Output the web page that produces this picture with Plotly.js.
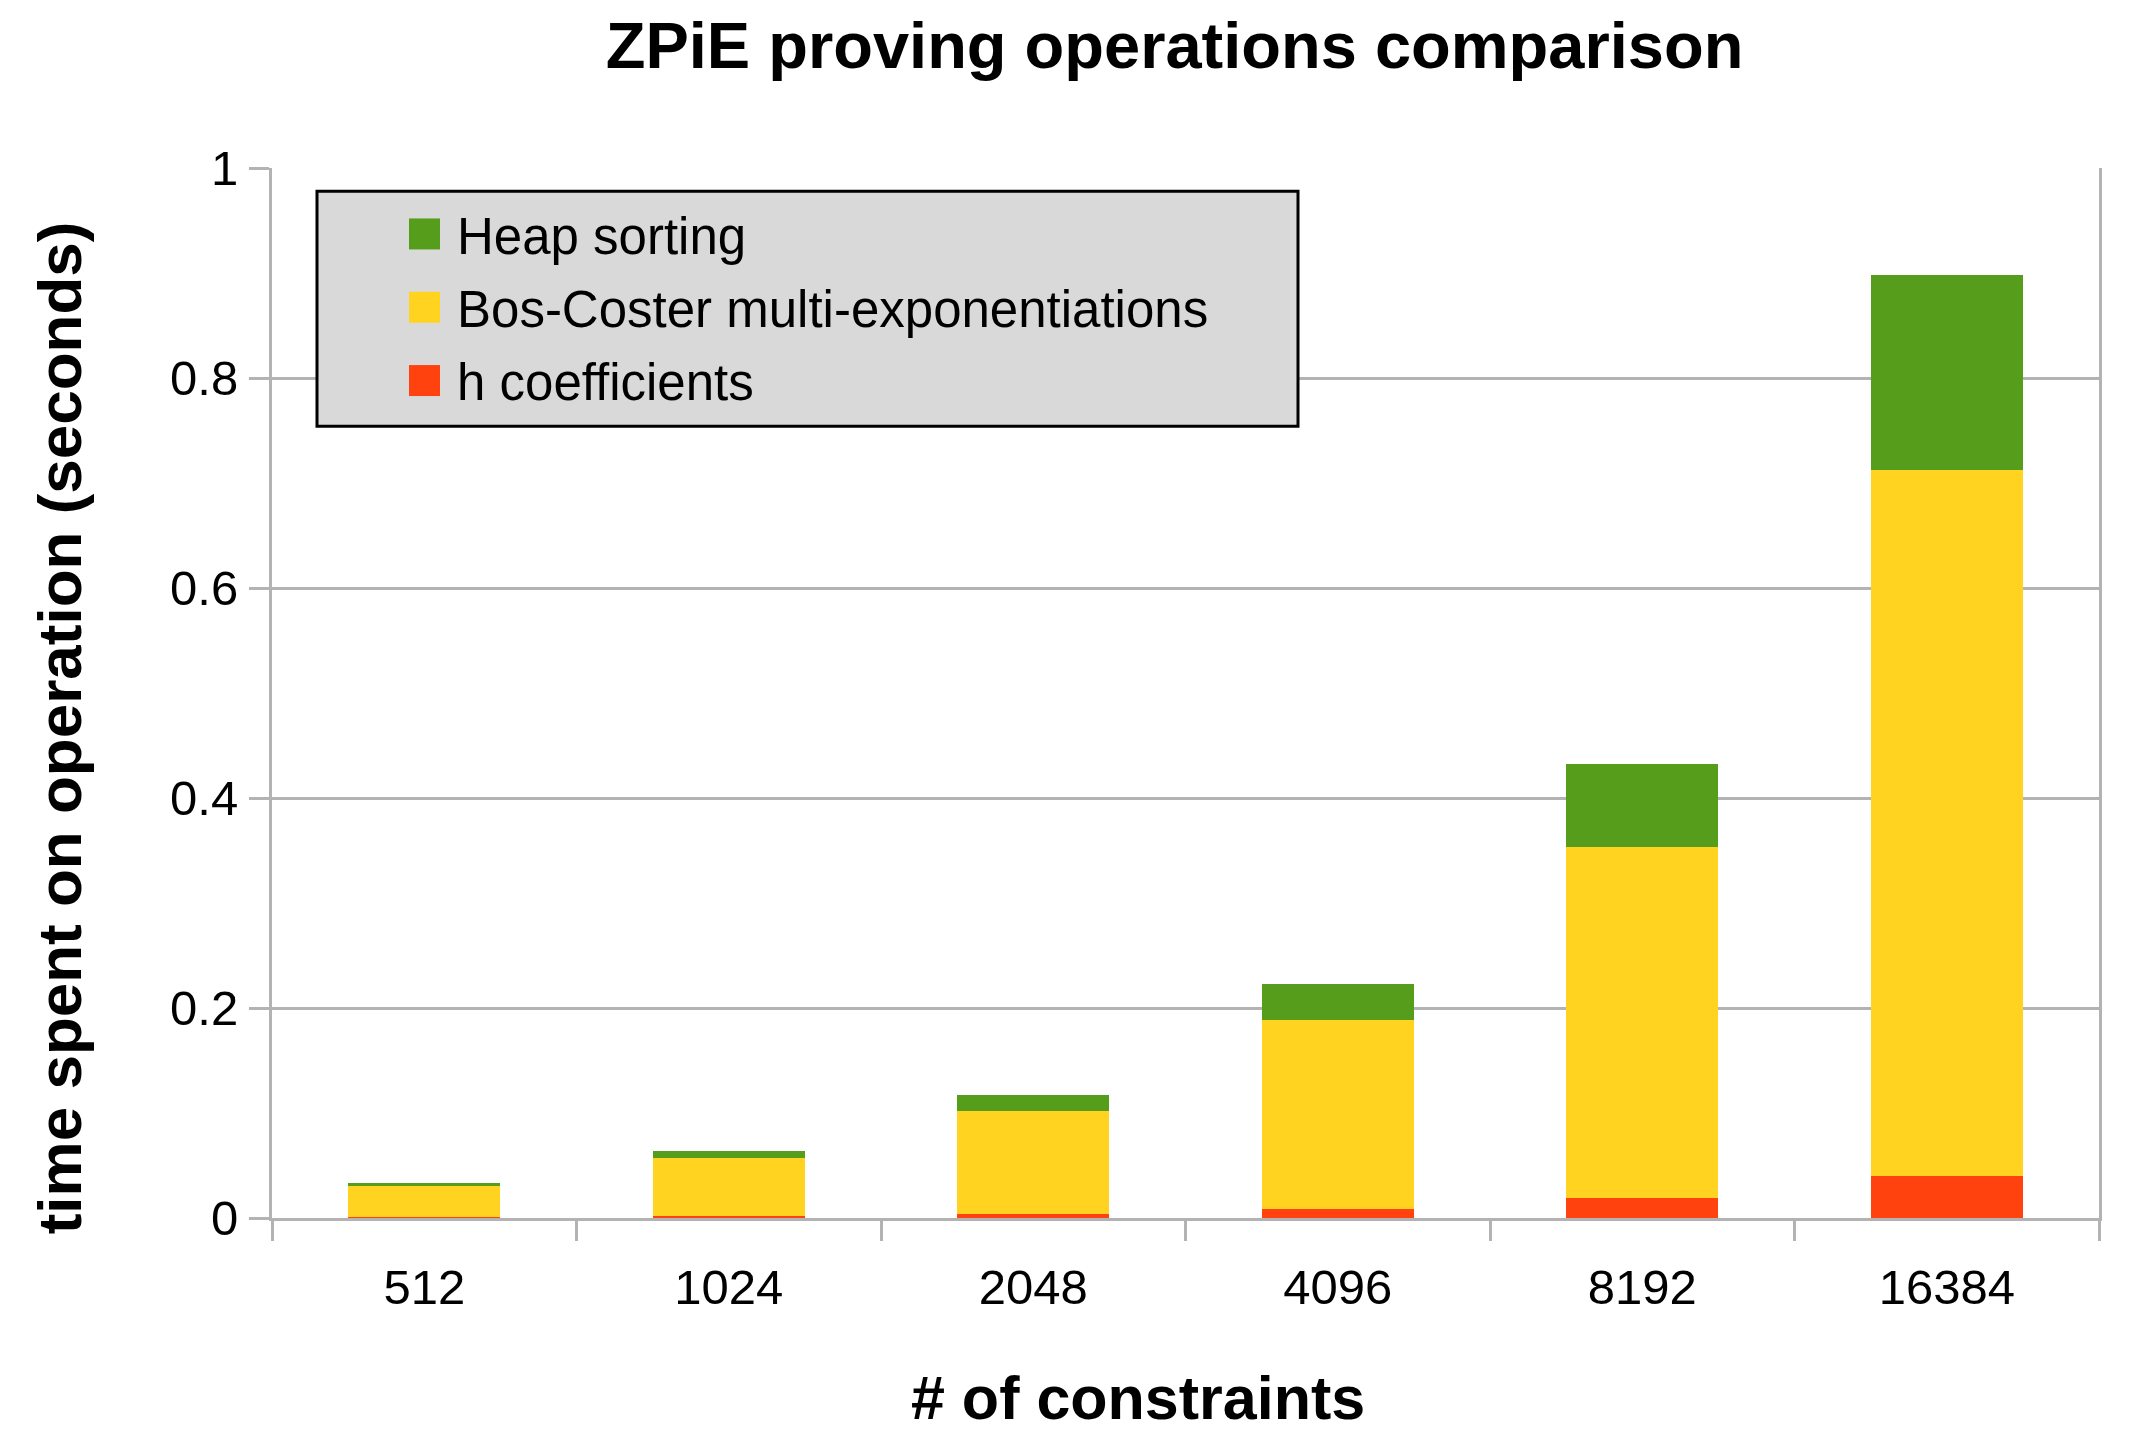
<!DOCTYPE html>
<html>
<head>
<meta charset="utf-8">
<script src="https://cdn.plot.ly/plotly-3.0.1.min.js"></script>
<style>
  html, body { margin: 0; padding: 0; background: #fff; }
  #chart { width: 2140px; height: 1448px; }
</style>
</head>
<body>
<div id="chart"></div>
<script>
// number of constraints (x categories)
const constraints = ['512', '1024', '2048', '4096', '8192', '16384'];

// seconds spent per operation
const hCoefficients = [0.0006, 0.0016, 0.0035, 0.0083, 0.0194, 0.0397];
const bosCoster     = [0.0302, 0.0552, 0.0984, 0.1807, 0.3336, 0.6724];
const heapSorting   = [0.0029, 0.0067, 0.0149, 0.0339, 0.0795, 0.1857];

// stacked bottom to top; legend lists them top to bottom
const seriesNames  = ['h coefficients', 'Bos-Coster multi-exponentiations', 'Heap sorting'];
const seriesColors = ['#ff420e', '#ffd320', '#579d1c'];
const seriesValues = [hCoefficients, bosCoster, heapSorting];

const gray = '#b3b3b3';
const font = 'Liberation Sans, Arial, sans-serif';

const data = seriesValues.map((vals, i) => ({
    type: 'bar',
    name: seriesNames[i],
    x: constraints,
    y: vals,
    legendgroup: 'g' + i,
    legendrank: 1000 - i,
    marker: { color: seriesColors[i], line: { width: 0 } },
    hoverinfo: 'none'
}));

const layout = {
    width: 2140,
    height: 1448,
    margin: { l: 272, r: 41, t: 168, b: 230 },
    paper_bgcolor: 'white',
    plot_bgcolor: 'white',
    font: { family: font, color: 'black' },
    barmode: 'stack',
    bargap: 0.5,
    title: {
        text: '<b>ZPiE proving operations comparison</b>',
        font: { size: 65, family: font, color: 'black' },
        xref: 'paper', x: 0.494, xanchor: 'center',
        yref: 'container', y: 0.9686, yanchor: 'middle'
    },
    xaxis: {
        type: 'category',
        showline: true, linecolor: gray, linewidth: 3,
        ticks: 'outside', tickson: 'boundaries', ticklen: 20, tickwidth: 3, tickcolor: gray,
        ticklabelstandoff: 24,
        tickfont: { size: 49, family: font, color: 'black' },
        showgrid: false,
        zeroline: false
    },
    yaxis: {
        range: [0, 1], dtick: 0.2, tick0: 0,
        showline: true, mirror: true, linecolor: gray, linewidth: 3,
        ticks: 'outside', ticklen: 20, tickwidth: 3, tickcolor: gray,
        ticklabelstandoff: 1,
        tickfont: { size: 49, family: font, color: 'black' },
        showgrid: true, gridcolor: gray, gridwidth: 3,
        zeroline: false
    },
    showlegend: true,
    legend: {
        x: (417 - 272) / 1827, xanchor: 'left',
        y: (1217.7 - 194) / 1050, yanchor: 'top',
        bgcolor: 'rgba(0,0,0,0)',
        borderwidth: 0,
        traceorder: 'grouped',
        tracegroupgap: 4,
        font: { size: 51, family: font, color: 'black' }
    },
    shapes: [{
        type: 'rect', xref: 'paper', yref: 'paper', layer: 'above',
        x0: (317 - 272) / 1827, x1: (1298 - 272) / 1827,
        y0: (1217.7 - 426) / 1050, y1: (1217.7 - 191) / 1050,
        fillcolor: '#d9d9d9', line: { color: 'black', width: 3 }
    }],
    annotations: [
        {
            text: '<b># of constraints</b>',
            xref: 'paper', yref: 'paper',
            x: 0.474, y: (1217.7 - 1398) / 1050,
            xanchor: 'center', yanchor: 'middle',
            showarrow: false,
            font: { size: 61, family: font, color: 'black' }
        },
        {
            text: '<b>time spent on operation (seconds)</b>',
            xref: 'paper', yref: 'paper',
            x: (59 - 272) / 1827, y: (1217.7 - 728) / 1050,
            xanchor: 'center', yanchor: 'middle',
            textangle: -90,
            showarrow: false,
            font: { size: 62, family: font, color: 'black' }
        }
    ]
};

Plotly.newPlot('chart', data, layout, { staticPlot: true }).then(gd => {
    // swap the small legend keys for large squares like the reference
    const NS = 'http://www.w3.org/2000/svg';
    gd.querySelectorAll('.legend .scrollbox').forEach(s => s.removeAttribute('clip-path'));
    gd.querySelectorAll('.legend .traces').forEach(item => {
        const pts = item.querySelector('.legendpoints');
        if (pts) pts.style.display = 'none';
        const txt = item.querySelector('text.legendtext');
        const name = txt ? txt.textContent : '';
        const idx = seriesNames.indexOf(name);
        if (idx < 0) return;
        const tx = parseFloat(txt.getAttribute('x')) || 40;
        const r = document.createElementNS(NS, 'rect');
        r.setAttribute('x', tx - 48);
        r.setAttribute('y', -15.5);
        r.setAttribute('width', 31);
        r.setAttribute('height', 31);
        r.setAttribute('fill', seriesColors[idx]);
        item.appendChild(r);
    });
});
</script>
</body>
</html>
